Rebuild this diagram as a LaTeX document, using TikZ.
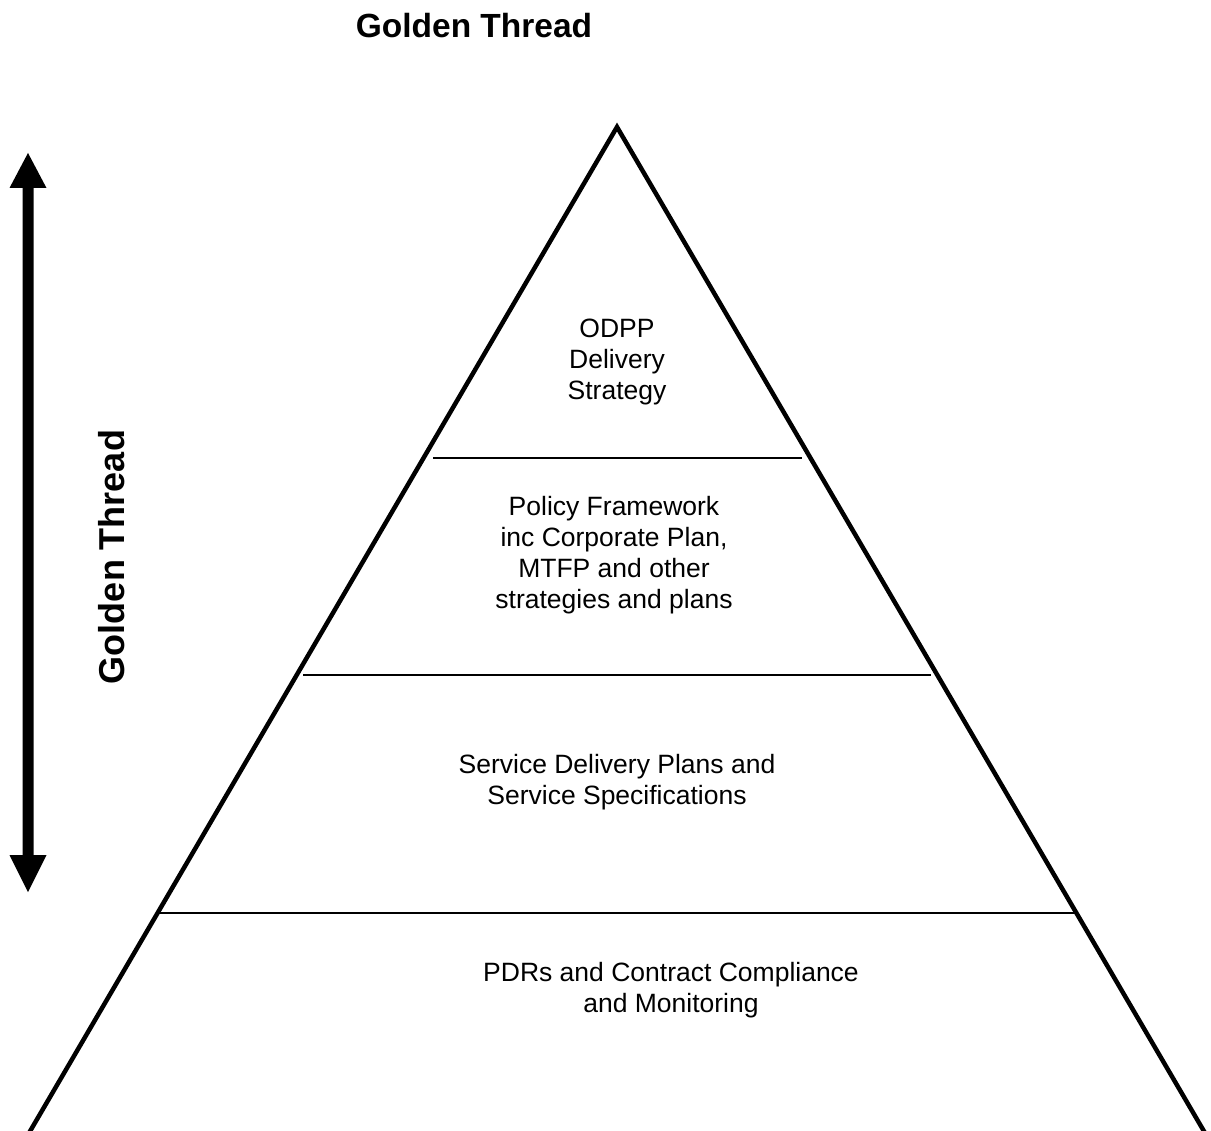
\documentclass[tikz,border=0pt]{standalone}
\usepackage{fontspec}
\setmainfont{Liberation Sans}
\begin{document}
\begin{tikzpicture}[x=1pt,y=-1pt,
  tier/.style={line width=1.8pt},
  side/.style={line width=4.5pt,line join=miter},
  body/.style={align=center,font=\fontsize{26.5}{31}\selectfont,inner sep=0pt},
  heading/.style={font=\fontsize{33.5}{40}\selectfont\bfseries,inner sep=0pt}]
\useasboundingbox (0,0) rectangle (1211,1131);
\clip (0,0) rectangle (1211,1131);
% pyramid
\coordinate (apex) at (617,127);
\coordinate (bl) at (29,1133);
\coordinate (br) at (1205,1133);
\draw[side] (bl) -- (apex) -- (br);
% tier lines
\coordinate (t1l) at (433,458); \coordinate (t1r) at (802,458);
\coordinate (t2l) at (303,675); \coordinate (t2r) at (931,675);
\coordinate (t3l) at (158,913); \coordinate (t3r) at (1076,913);
\draw[tier] (t1l) -- (t1r);
\draw[tier] (t2l) -- (t2r);
\draw[tier] (t3l) -- (t3r);
% texts
\node[heading] (title) at (474,26) {Golden Thread};
\node[heading,rotate=90,font=\fontsize{36}{40}\selectfont\bfseries] (vlabel) at (112,557) {Golden Thread};
\node[body] (odpp) at (617,362) {ODPP\\Delivery\\Strategy};
\node[body] (policy) at (614,555) {Policy Framework\\inc Corporate Plan,\\MTFP and other\\strategies and plans};
\node[body] (service) at (617,782) {Service Delivery Plans and\\Service Specifications};
\node[body] (pdr) at (671,990) {PDRs and Contract Compliance\\and Monitoring};
% double arrow
\fill (28,153) -- (46.5,188) -- (33.5,188) -- (33.5,855) -- (46.5,855) -- (28,892)
  -- (9.5,855) -- (22.5,855) -- (22.5,188) -- (9.5,188) -- cycle;
\end{tikzpicture}
\end{document}
